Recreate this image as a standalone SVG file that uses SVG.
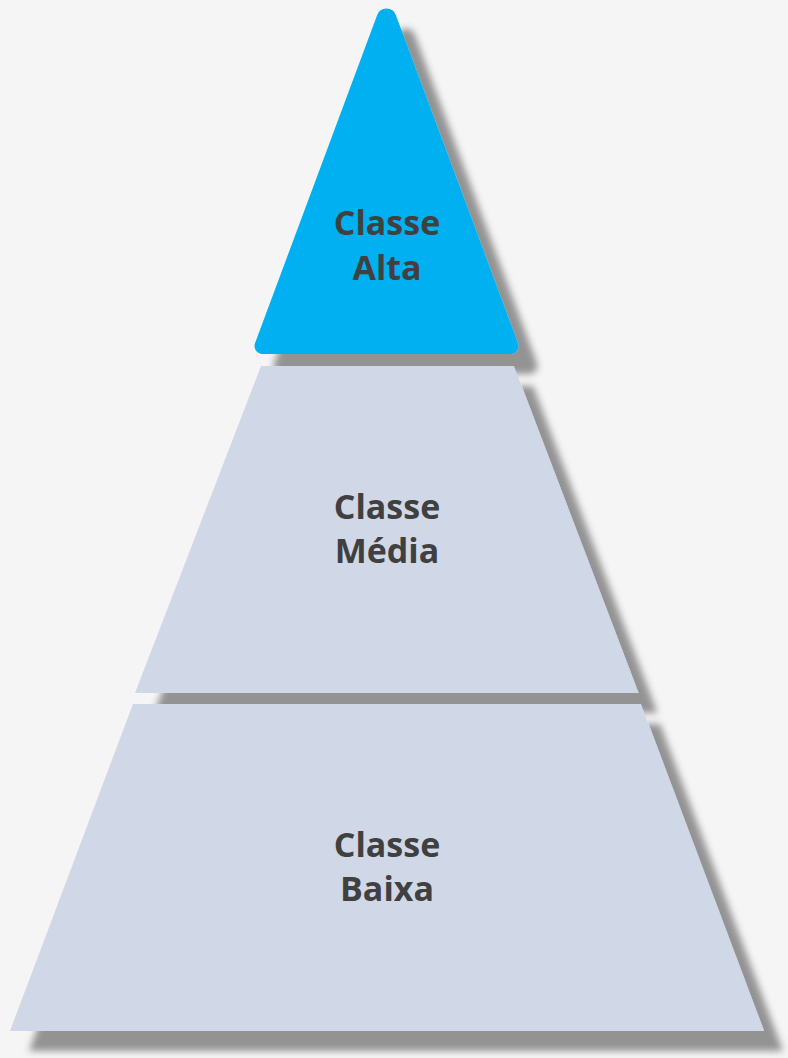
<svg xmlns="http://www.w3.org/2000/svg" width="788" height="1058" viewBox="0 0 788 1058">
<defs>
<filter id="sh" x="-10%" y="-10%" width="130%" height="130%">
<feDropShadow dx="19" dy="20" stdDeviation="3.5" flood-color="#000" flood-opacity="0.4"/>
</filter>
<style>
.lbl{font-family:"Open Sans","Liberation Sans",sans-serif;font-weight:bold;font-size:34px;fill:#404040;text-anchor:middle}
.top{fill:#00B0F0}
.lev{fill:#D0D8E8}
</style>
</defs>
<rect x="0" y="0" width="788" height="1058" fill="#F5F5F5"/>
<g id="classe-alta">
<path class="top" filter="url(#sh)" d="M 377.1 15.2 A 10 10 0 0 1 395.9 15.2 L 518 343.2 A 8 8 0 0 1 510.5 354 L 262.5 354 A 8 8 0 0 1 255 343.2 Z"/>
<text class="lbl" x="387" y="235">Classe</text>
<text class="lbl" x="387" y="280">Alta</text>
</g>
<g id="classe-media">
<path class="lev" filter="url(#sh)" d="M 261 366 L 514 366 L 638.5 693 L 135 693 Z"/>
<text class="lbl" x="387" y="519">Classe</text>
<text class="lbl" x="387" y="563">Média</text>
</g>
<g id="classe-baixa">
<path class="lev" filter="url(#sh)" d="M 133 704 L 641 704 L 764 1031 L 10 1031 Z"/>
<text class="lbl" x="387" y="857">Classe</text>
<text class="lbl" x="387" y="901">Baixa</text>
</g>
<g id="connectors"/>
</svg>
